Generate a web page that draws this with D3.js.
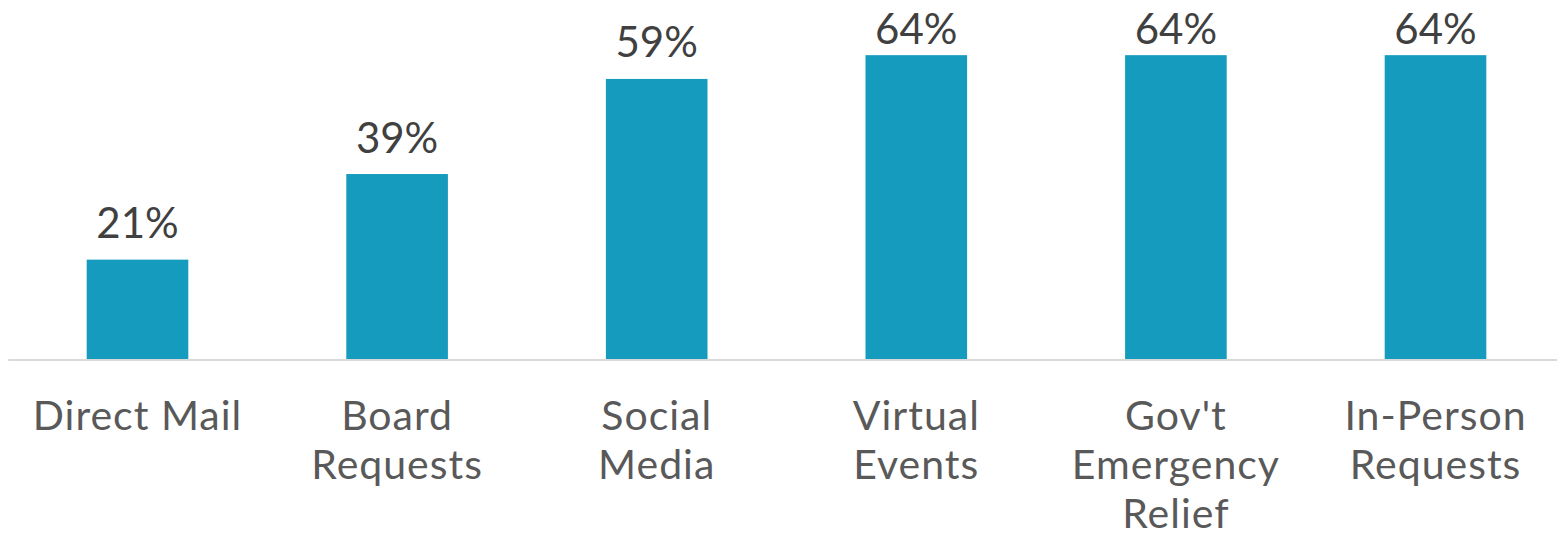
<!DOCTYPE html>
<html>
<head>
<meta charset="utf-8">
<script src="https://cdn.jsdelivr.net/npm/d3@7/dist/d3.min.js"></script>
<style>
  html, body { margin: 0; padding: 0; background: #ffffff; }
  svg { display: block; }
</style>
</head>
<body>
<svg id="chart" width="1557" height="536"></svg>
<script>
// Share of respondents by fundraising channel
const categories = ["Direct Mail", "Board\nRequests", "Social\nMedia", "Virtual\nEvents", "Gov't\nEmergency\nRelief", "In-Person\nRequests"];
const values = [21, 39, 59, 64, 64, 64];
const valueLabels = ["21%", "39%", "59%", "64%", "64%", "64%"];

const W = 1557, H = 536;
const baseY = 359.5;
const font = "Lato, 'Open Sans', sans-serif";

const svg = d3.select("#chart");

const x = d3.scaleBand()
  .domain(categories)
  .range([7.7, 1565.3])
  .paddingInner(0.6086)
  .paddingOuter(0.3043);

const y = d3.scaleLinear()
  .domain([0, 75.6])
  .range([baseY, 0]);

// bars
svg.append("g")
  .selectAll("rect")
  .data(values)
  .join("rect")
  .attr("x", (d, i) => x(categories[i]))
  .attr("y", d => y(d))
  .attr("width", x.bandwidth())
  .attr("height", d => baseY - y(d))
  .attr("fill", "#159bbd");

// category axis along the baseline
const axis = svg.append("g")
  .attr("transform", `translate(0,${baseY})`)
  .call(d3.axisBottom(x).tickSize(0).tickSizeOuter(0));

axis.select(".domain")
  .attr("stroke", "#d9d9d9")
  .attr("stroke-width", 2);

axis.selectAll(".tick text")
  .attr("fill", "#595959")
  .style("font-family", font)
  .style("font-size", "41px")
  .style("letter-spacing", "1px")
  .attr("dy", null)
  .attr("y", null)
  .each(function(d) {
    const t = d3.select(this);
    t.text(null);
    d.split("\n").forEach((line, k) => {
      t.append("tspan")
        .attr("x", 0)
        .attr("y", 70 + k * 49)
        .text(line);
    });
  });

// value labels above bars, kept inside the plot top
svg.append("g")
  .selectAll("text")
  .data(values)
  .join("text")
  .attr("x", (d, i) => x(categories[i]) + x.bandwidth() / 2)
  .attr("y", d => Math.max(y(d) - 21.5, 43.5))
  .attr("text-anchor", "middle")
  .attr("fill", "#404040")
  .style("font-family", font)
  .style("font-size", "42px")
  .text((d, i) => valueLabels[i]);
</script>
</body>
</html>
